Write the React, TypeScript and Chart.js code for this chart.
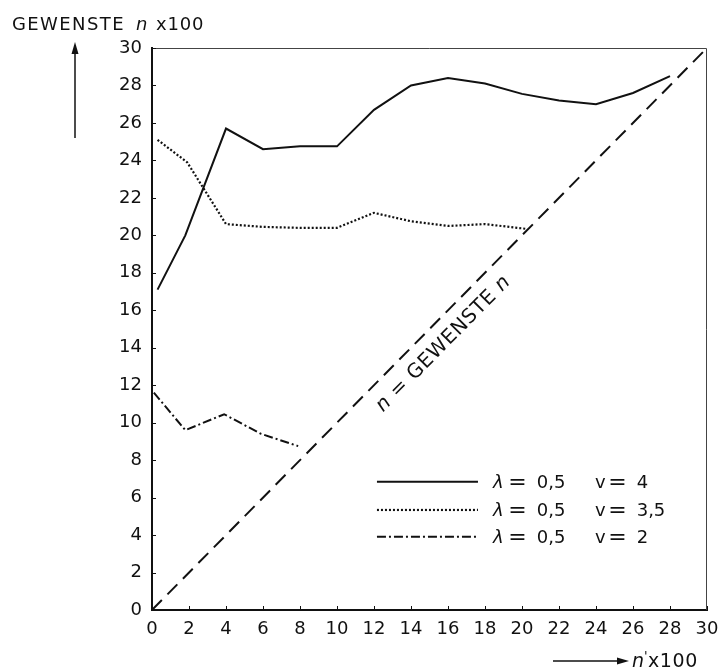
import React, { useEffect, useRef } from "react";
import { Chart, registerables } from "chart.js";

Chart.register(...registerables);

// ---- data ----
const tickValues = [0, 2, 4, 6, 8, 10, 12, 14, 16, 18, 20, 22, 24, 26, 28, 30];

const solidX = [0.3, 1.8, 4, 6, 8, 10, 12, 14, 16, 18, 20, 22, 24, 26, 28];
const solidY = [17.1, 20.0, 25.7, 24.6, 24.75, 24.75, 26.7, 28.0, 28.4, 28.1, 27.55, 27.2, 27.0, 27.6, 28.5];

const dottedX = [0.3, 1.9, 4, 6, 8, 10, 12, 14, 16, 18, 20.2];
const dottedY = [25.1, 23.9, 20.6, 20.45, 20.4, 20.4, 21.2, 20.75, 20.5, 20.6, 20.35];

const dashDotX = [0.1, 1.8, 3.9, 5.9, 7.9];
const dashDotY = [11.6, 9.6, 10.45, 9.4, 8.75];

const diagX = [0, 30];
const diagY = [0, 30];

const legendLambda = ["0,5", "0,5", "0,5"];
const legendV = ["4", "3,5", "2"];

const yTitle = ["GEWENSTE", "n", "x100"];
const xTitle = ["n", "'", "x100"];
const diagLabel = ["n", " = GEWENSTE ", "n"];

const FONT = '"DejaVu Sans", sans-serif';
const INK = "#111";

const toPts = (xs: number[], ys: number[]) => xs.map((x, i) => ({ x, y: ys[i] }));

const decor = {
  id: "decor",
  afterDraw(chart: any) {
    const { ctx, chartArea: a, scales } = chart;
    const xs = scales.x;
    const ys = scales.y;
    ctx.save();

    // top / right frame
    ctx.strokeStyle = "#444";
    ctx.lineWidth = 1;
    ctx.beginPath();
    ctx.moveTo(a.left, a.top + 0.5);
    ctx.lineTo(a.right - 0.5, a.top + 0.5);
    ctx.lineTo(a.right - 0.5, a.bottom);
    ctx.stroke();

    // inward tick marks
    ctx.strokeStyle = INK;
    ctx.lineWidth = 1;
    tickValues.forEach((v) => {
      const px = Math.round(xs.getPixelForValue(v)) + 0.5;
      ctx.beginPath();
      ctx.moveTo(px, a.bottom);
      ctx.lineTo(px, a.bottom - 4);
      ctx.stroke();
      const py = Math.round(ys.getPixelForValue(v)) + 0.5;
      ctx.beginPath();
      ctx.moveTo(a.left, py);
      ctx.lineTo(a.left + 4, py);
      ctx.stroke();
    });

    ctx.fillStyle = INK;

    // legend
    const rows = [6.85, 5.34, 3.91];
    const lx0 = xs.getPixelForValue(12.16);
    const lx1 = xs.getPixelForValue(17.62);
    rows.forEach((rv, i) => {
      const ds = chart.data.datasets[i];
      const py = ys.getPixelForValue(rv);
      ctx.save();
      ctx.strokeStyle = INK;
      ctx.lineWidth = ds.borderWidth;
      ctx.setLineDash(ds.borderDash || []);
      ctx.beginPath();
      ctx.moveTo(lx0, py);
      ctx.lineTo(lx1, py);
      ctx.stroke();
      ctx.restore();

      const base = py + 6.5;
      ctx.textBaseline = "alphabetic";
      ctx.textAlign = "left";
      ctx.font = `italic 18px ${FONT}`;
      ctx.fillText("λ", xs.getPixelForValue(18.43), base);
      ctx.font = `22px ${FONT}`;
      ctx.textAlign = "center";
      ctx.fillText("=", xs.getPixelForValue(19.75), base + 1);
      ctx.textAlign = "left";
      ctx.font = `18px ${FONT}`;
      ctx.fillText(legendLambda[i], xs.getPixelForValue(20.8), base);
      ctx.font = `18px ${FONT}`;
      ctx.fillText("v", xs.getPixelForValue(23.95), base);
      ctx.font = `22px ${FONT}`;
      ctx.textAlign = "center";
      ctx.fillText("=", xs.getPixelForValue(25.16), base + 1);
      ctx.textAlign = "left";
      ctx.font = `18px ${FONT}`;
      ctx.fillText(legendV[i], xs.getPixelForValue(26.2), base);
    });

    // diagonal label
    {
      const ang = Math.atan2(
        ys.getPixelForValue(30) - ys.getPixelForValue(0),
        xs.getPixelForValue(30) - xs.getPixelForValue(0)
      );
      const cx = xs.getPixelForValue(15.76);
      const cy = ys.getPixelForValue(14.2);
      ctx.save();
      ctx.translate(cx, cy);
      ctx.rotate(ang);
      ctx.textBaseline = "middle";
      ctx.textAlign = "left";
      const fonts = [`italic 20px ${FONT}`, `20px ${FONT}`, `italic 20px ${FONT}`];
      (ctx as any).letterSpacing = "0.6px";
      let w = 0;
      diagLabel.forEach((t, i) => {
        ctx.font = fonts[i];
        w += ctx.measureText(t).width;
      });
      let x = -w / 2;
      diagLabel.forEach((t, i) => {
        ctx.font = fonts[i];
        ctx.fillText(t, x, 0);
        x += ctx.measureText(t).width;
      });
      ctx.restore();
    }

    // y title
    ctx.textAlign = "left";
    ctx.textBaseline = "alphabetic";
    (ctx as any).letterSpacing = "1.4px";
    ctx.font = `18px ${FONT}`;
    ctx.fillText(yTitle[0], 12, 30);
    (ctx as any).letterSpacing = "0px";
    ctx.font = `italic 18px ${FONT}`;
    ctx.fillText(yTitle[1], 136, 30);
    (ctx as any).letterSpacing = "0.8px";
    ctx.font = `18px ${FONT}`;
    ctx.fillText(yTitle[2], 156, 30);
    (ctx as any).letterSpacing = "0px";

    // y arrow
    ctx.strokeStyle = INK;
    ctx.lineWidth = 1.5;
    ctx.beginPath();
    ctx.moveTo(75, 138);
    ctx.lineTo(75, 50);
    ctx.stroke();
    ctx.beginPath();
    ctx.moveTo(75, 42);
    ctx.lineTo(71.5, 54);
    ctx.lineTo(78.5, 54);
    ctx.closePath();
    ctx.fill();

    // x arrow
    ctx.beginPath();
    ctx.moveTo(553, 661);
    ctx.lineTo(620, 661);
    ctx.stroke();
    ctx.beginPath();
    ctx.moveTo(629, 661);
    ctx.lineTo(617, 657.5);
    ctx.lineTo(617, 664.5);
    ctx.closePath();
    ctx.fill();

    // x title
    ctx.font = `italic 19px ${FONT}`;
    ctx.fillText(xTitle[0], 632, 667);
    ctx.font = `13px ${FONT}`;
    ctx.fillText(xTitle[1], 644, 660);
    (ctx as any).letterSpacing = "0.6px";
    ctx.font = `19px ${FONT}`;
    ctx.fillText(xTitle[2], 648, 667);
    (ctx as any).letterSpacing = "0px";

    ctx.restore();
  },
};

export default function App() {
  const ref = useRef<HTMLCanvasElement | null>(null);

  useEffect(() => {
    if (!ref.current) return;
    const line = (pts: any, dash: number[], width: number) => ({
      data: pts,
      borderColor: INK,
      borderWidth: width,
      borderDash: dash,
      pointRadius: 0,
      fill: false,
      tension: 0,
      borderCapStyle: "butt" as const,
    });
    const chart = new Chart(ref.current, {
      type: "line",
      data: {
        datasets: [
          line(toPts(solidX, solidY), [], 2),
          line(toPts(dottedX, dottedY), [2, 2], 2.2),
          line(toPts(dashDotX, dashDotY), [9, 3, 2, 3], 2),
          line(toPts(diagX, diagY), [14, 8], 2),
        ],
      },
      options: {
        animation: false,
        responsive: false,
        events: [],
        layout: { padding: { left: 0, top: 48, right: 11, bottom: 0 } },
        plugins: { legend: { display: false }, tooltip: { enabled: false } },
        scales: {
          x: {
            type: "linear",
            min: 0,
            max: 30,
            grid: { display: false, drawTicks: false },
            border: { display: true, color: INK, width: 2 },
            afterBuildTicks: (s: any) => {
              s.ticks = tickValues.map((v) => ({ value: v }));
            },
            afterFit: (s: any) => {
              s.height = 59;
              s.paddingLeft = 0;
              s.paddingRight = 0;
            },
            ticks: {
              autoSkip: false,
              maxRotation: 0,
              padding: 9,
              color: INK,
              font: { family: FONT, size: 18 },
              callback: (v: any) => String(v),
            },
          },
          y: {
            type: "linear",
            min: 0,
            max: 30,
            grid: { display: false, drawTicks: false },
            border: { display: true, color: INK, width: 2 },
            afterBuildTicks: (s: any) => {
              s.ticks = tickValues.map((v) => ({ value: v }));
            },
            afterFit: (s: any) => {
              s.width = 152;
              s.paddingTop = 0;
              s.paddingBottom = 0;
            },
            ticks: {
              autoSkip: false,
              padding: 10,
              color: INK,
              font: { family: FONT, size: 18 },
              callback: (v: any) => String(v),
            },
          },
        },
      },
      plugins: [decor],
    });
    return () => chart.destroy();
  }, []);

  return (
    <div style={{ position: "absolute", left: 0, top: 0, width: 718, height: 669, background: "#fff" }}>
      <canvas ref={ref} width={718} height={669} style={{ width: 718, height: 669, display: "block" }} />
    </div>
  );
}
